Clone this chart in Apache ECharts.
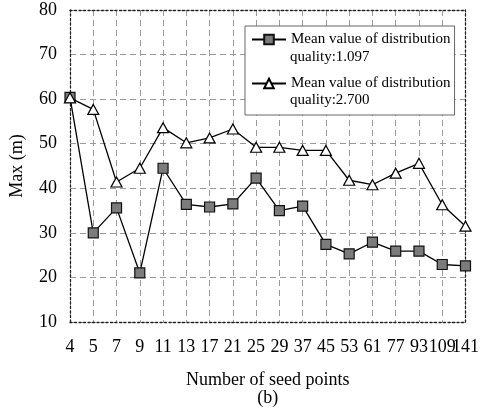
<!DOCTYPE html>
<html>
<head>
<meta charset="utf-8">
<script src="https://cdn.jsdelivr.net/npm/echarts@6/dist/echarts.min.js"></script>
<style>
    html, body { margin: 0; padding: 0; background: #fff; }
    #chart { width: 482px; height: 412px; }
</style>
</head>
<body>
<div id="chart"></div>
<script>
    // 数据
    var seedPoints = ['4', '5', '7', '9', '11', '13', '17', '21', '25', '29', '37', '45', '53', '61', '77', '93', '109', '141'];
    var quality1097 = [60.4, 30.0, 35.6, 21.0, 44.5, 36.4, 35.8, 36.5, 42.3, 35.0, 36.0, 27.4, 25.3, 27.9, 25.9, 25.9, 22.9, 22.6];
    var quality2700 = [60.3, 57.7, 41.4, 44.5, 53.6, 50.2, 51.3, 53.3, 49.2, 49.2, 48.5, 48.5, 41.8, 40.8, 43.4, 45.6, 36.3, 31.5];
    var seriesNames = ['Mean value of distribution\nquality:1.097', 'Mean value of distribution\nquality:2.700'];

    var font = 'Liberation Serif';
    var myChart = echarts.init(document.getElementById('chart'));

    // 边框用点线, 网格用灰色虚线
    var dottedBorder = { show: true, lineStyle: { color: '#222', width: 1.3, type: [2, 2.5] } };
    var gridLine = { show: true, lineStyle: { color: '#9a9a9a', width: 1, type: [6, 4] } };

    var option = {
        backgroundColor: '#fff',
        animation: false,
        grid: { left: 67, right: 12, top: 10, bottom: 90 },
        legend: {
            left: 245,
            top: 26,
            orient: 'vertical',
            data: seriesNames,
            formatter: function (name) { return name.split('\n')[0]; },
            itemWidth: 34,
            itemHeight: 12,
            itemGap: 25,
            padding: [4, 4, 22, 6],
            borderColor: '#666',
            borderWidth: 1,
            backgroundColor: '#fff',
            textStyle: { fontFamily: font, fontSize: 15, color: '#000', lineHeight: 19 }
        },
        graphic: [
            { type: 'text', left: 290, top: 50, z: 100,
              style: { text: seriesNames[0].split('\n')[1], font: '15px "Liberation Serif"', fill: '#000' } },
            { type: 'text', left: 290, top: 93, z: 100,
              style: { text: seriesNames[1].split('\n')[1], font: '15px "Liberation Serif"', fill: '#000' } }
        ],
        xAxis: [
            {
                type: 'category',
                data: seedPoints,
                boundaryGap: false,
                name: 'Number of seed points\n(b)',
                nameLocation: 'middle',
                nameGap: 49,
                nameTextStyle: { fontFamily: font, fontSize: 18, color: '#000', lineHeight: 18 },
                axisLine: dottedBorder,
                axisTick: { show: false },
                axisLabel: { interval: 0, margin: 16, fontFamily: font, fontSize: 18, color: '#000', hideOverlap: false },
                splitLine: gridLine
            },
            {
                type: 'category',
                data: seedPoints,
                boundaryGap: false,
                position: 'top',
                axisLine: dottedBorder,
                axisTick: { show: false },
                axisLabel: { show: false },
                splitLine: { show: false }
            }
        ],
        yAxis: [
            {
                type: 'value',
                min: 10,
                max: 80,
                interval: 10,
                name: 'Max (m)',
                nameLocation: 'middle',
                nameGap: 44,
                nameTextStyle: { fontFamily: font, fontSize: 18, color: '#000' },
                axisLine: dottedBorder,
                axisTick: { show: false },
                axisLabel: { margin: 13, fontFamily: font, fontSize: 18, color: '#000' },
                splitLine: gridLine
            },
            {
                type: 'value',
                min: 10,
                max: 80,
                interval: 10,
                position: 'right',
                axisLine: dottedBorder,
                axisTick: { show: false },
                axisLabel: { show: false },
                splitLine: { show: false }
            }
        ],
        series: [
            {
                name: seriesNames[0],
                type: 'line',
                data: quality1097,
                symbol: 'rect',
                symbolSize: 10,
                lineStyle: { color: '#000', width: 1.3 },
                itemStyle: { color: '#7c7c7c', borderColor: '#111', borderWidth: 1.2 },
                z: 3
            },
            {
                name: seriesNames[1],
                type: 'line',
                data: quality2700,
                symbol: 'triangle',
                symbolSize: [11, 10],
                lineStyle: { color: '#000', width: 1.3 },
                itemStyle: { color: '#fff', borderColor: '#000', borderWidth: 1.2 },
                z: 4
            }
        ]
    };

    myChart.setOption(option);
</script>
</body>
</html>
